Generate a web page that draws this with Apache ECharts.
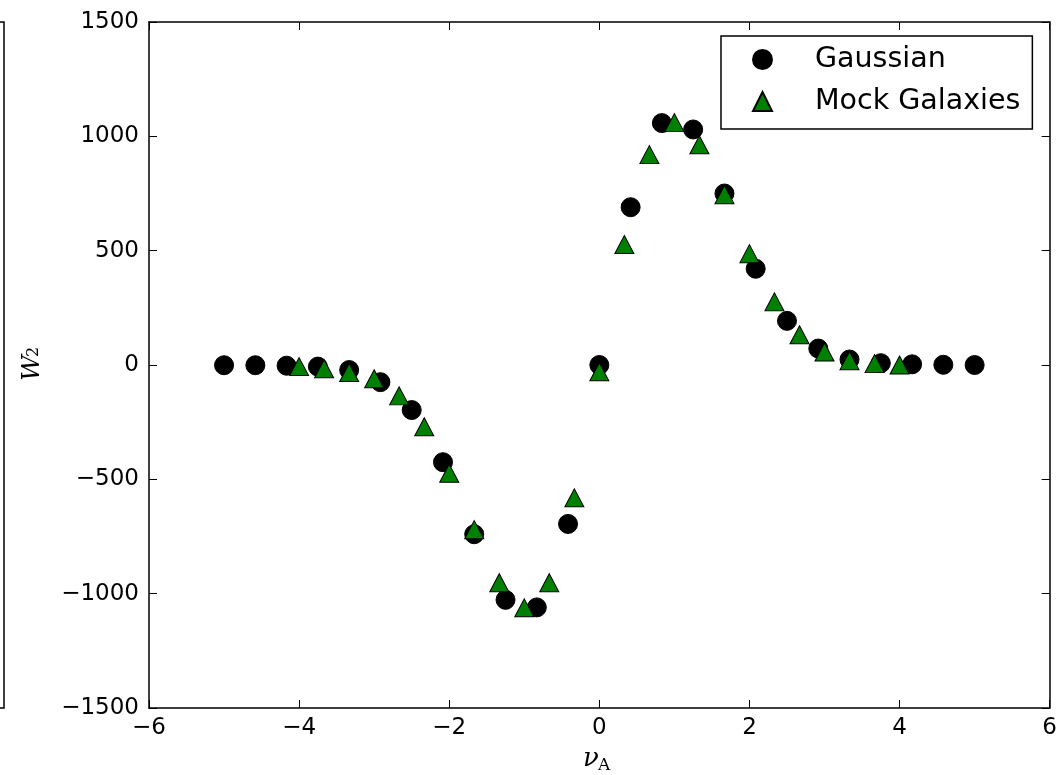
<!DOCTYPE html>
<html>
<head>
<meta charset="utf-8">
<script src="https://cdn.jsdelivr.net/npm/echarts@6/dist/echarts.min.js"></script>
<style>
    html, body { margin: 0; padding: 0; background: #fff; }
    #chart { width: 1060px; height: 775px; }
</style>
</head>
<body>
<div id="chart"></div>
<script>
// Gaussian: 25 points from -5 to 5
var gaussX = [-5, -4.583, -4.167, -3.75, -3.333, -2.917, -2.5, -2.083, -1.667, -1.25, -0.833, -0.417, 0,
              0.417, 0.833, 1.25, 1.667, 2.083, 2.5, 2.917, 3.333, 3.75, 4.167, 4.583, 5];
var gaussY = [-1, -1, -3, -7, -22, -75, -197, -425, -740, -1027, -1060, -695, 0,
              690, 1058, 1030, 750, 421, 193, 72, 24, 8, 3, 1, 0];

// Mock galaxies: 25 points from -4 to 4
var mockX = [-4, -3.667, -3.333, -3, -2.667, -2.333, -2, -1.667, -1.333, -1, -0.667, -0.333, 0,
             0.333, 0.667, 1, 1.333, 1.667, 2, 2.333, 2.667, 3, 3.333, 3.667, 4];
var mockY = [-7, -16, -33, -60, -135, -270, -473, -720, -952, -1062, -952, -581, -30,
             527, 920, 1060, 963, 745, 487, 276, 132, 57, 19, 6, 0];

var xTicks = { min: -6, max: 6, interval: 2 };
var yTicks = { min: -1500, max: 1500, interval: 500 };

function pairs(xs, ys) {
    var out = [];
    for (var i = 0; i < xs.length; i++) out.push([xs[i], ys[i]]);
    return out;
}

function minus(v) { return String(v).replace('-', '\u2212'); }

var tickFont = { fontFamily: 'DejaVu Sans', fontSize: 23, color: '#000' };
var lineStyle = { color: '#000', width: 1.5 };

var chart = echarts.init(document.getElementById('chart'));

chart.setOption({
    backgroundColor: '#fff',
    animation: false,
    grid: { left: 149, right: 10, top: 22, bottom: 67 },
    xAxis: [
        {
            type: 'value', min: xTicks.min, max: xTicks.max, interval: xTicks.interval,
            position: 'bottom',
            axisLine: { onZero: false, lineStyle: lineStyle },
            axisTick: { inside: true, length: 8, lineStyle: { color: '#000', width: 1 } },
            axisLabel: Object.assign({ margin: 9, formatter: minus }, tickFont),
            splitLine: { show: false }
        },
        {
            type: 'value', min: xTicks.min, max: xTicks.max, interval: xTicks.interval,
            position: 'top',
            axisLine: { onZero: false, lineStyle: lineStyle },
            axisTick: { inside: true, length: 8, lineStyle: { color: '#000', width: 1 } },
            axisLabel: { show: false },
            splitLine: { show: false }
        }
    ],
    yAxis: [
        {
            type: 'value', min: yTicks.min, max: yTicks.max, interval: yTicks.interval,
            position: 'left',
            axisLine: { show: true, onZero: false, lineStyle: lineStyle },
            axisTick: { show: true, inside: true, length: 8, lineStyle: { color: '#000', width: 1 } },
            axisLabel: Object.assign({ margin: 10, formatter: minus }, tickFont),
            splitLine: { show: false }
        },
        {
            type: 'value', min: yTicks.min, max: yTicks.max, interval: yTicks.interval,
            position: 'right',
            axisLine: { show: true, onZero: false, lineStyle: lineStyle },
            axisTick: { show: true, inside: true, length: 8, lineStyle: { color: '#000', width: 1 } },
            axisLabel: { show: false },
            splitLine: { show: false }
        }
    ],
    legend: {
        left: 721, top: 36,
        orient: 'vertical',
        backgroundColor: '#fff',
        borderColor: '#000', borderWidth: 1.5, borderRadius: 0,
        padding: [9, 12, 13, 31],
        itemWidth: 19, itemHeight: 19, itemGap: 13,
        textStyle: { fontFamily: 'DejaVu Sans', fontSize: 28.5, color: '#000', padding: [0, 0, 0, 38] },
        data: [
            { name: 'Gaussian', icon: 'circle' },
            { name: 'Mock Galaxies', icon: 'triangle' }
        ]
    },
    graphic: [
        // edge of the neighbouring panel, clipped at the left border
        { type: 'polyline', silent: true,
          shape: { points: [[0, 22], [4, 22], [4, 708], [0, 708]] },
          style: { stroke: '#000', lineWidth: 1.5, fill: null } },
        { type: 'text', left: 583, top: 746,
          style: { text: '\u03bd', font: 'italic 26px "DejaVu Serif"', fill: '#000' } },
        { type: 'text', left: 598, top: 757,
          style: { text: 'A', font: '17px "DejaVu Serif"', fill: '#000' } },
        { type: 'text', x: 20, y: 381, rotation: Math.PI / 2,
          style: { text: 'W', font: 'italic 25px "DejaVu Serif"', fill: '#000' } },
        { type: 'text', x: 26, y: 357, rotation: Math.PI / 2,
          style: { text: '2', font: '16px "DejaVu Serif"', fill: '#000' } }
    ],
    series: [
        {
            name: 'Gaussian', type: 'scatter',
            symbol: 'circle', symbolSize: 19,
            itemStyle: { color: '#000', borderColor: '#000', borderWidth: 1, opacity: 1 },
            data: pairs(gaussX, gaussY), z: 2
        },
        {
            name: 'Mock Galaxies', type: 'scatter',
            symbol: 'triangle', symbolSize: [19, 18],
            itemStyle: { color: '#008000', borderColor: '#000', borderWidth: 1, opacity: 1 },
            data: pairs(mockX, mockY), z: 3
        }
    ]
});
</script>
</body>
</html>
